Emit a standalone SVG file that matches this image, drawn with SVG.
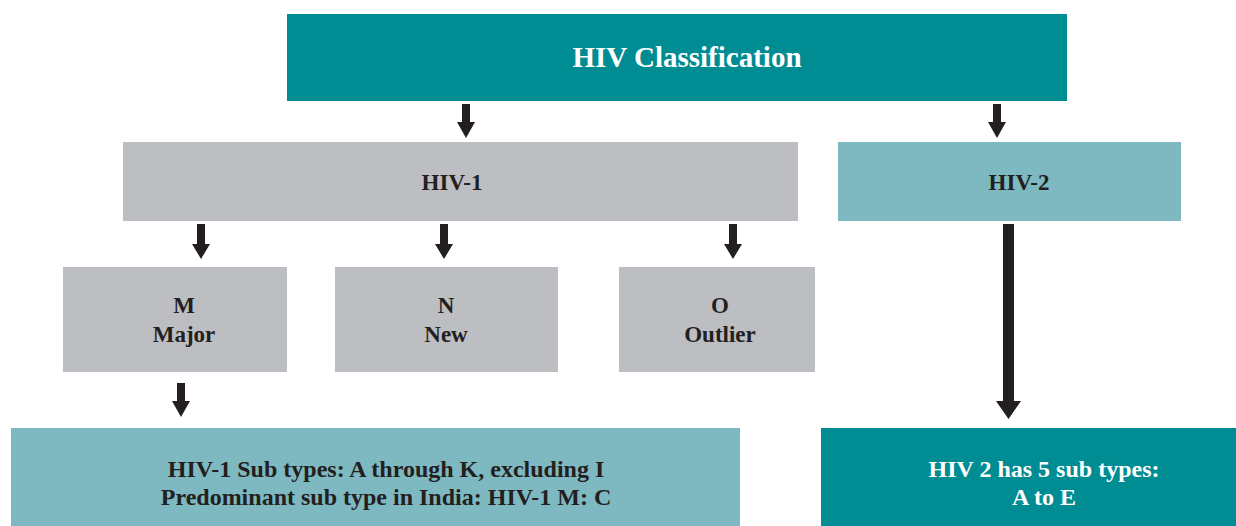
<svg xmlns="http://www.w3.org/2000/svg" width="1236" height="526" viewBox="0 0 1236 526">
<style>
.t{font-family:"Liberation Serif","Times New Roman",serif;font-weight:bold;text-anchor:middle;fill:#231F20}
.w{fill:#FFFFFF}
.dk{fill:#008C93}
.lt{fill:#7EB8C0}
.gr{fill:#BDBEC2}
.ar{fill:#231F20}
</style>
<rect width="1236" height="526" fill="#FFFFFF"/>
<g id="connectors">
<path class="ar" d="M462,104h8v18h5l-9,16l-9,-16h5z"/>
<path class="ar" d="M993,104h8v18h5l-9,16l-9,-16h5z"/>
<path class="ar" d="M197,224h8v20h5l-9,15l-9,-15h5z"/>
<path class="ar" d="M440,224h8v20h5l-9,15l-9,-15h5z"/>
<path class="ar" d="M729,224h8v20h5l-9,15l-9,-15h5z"/>
<path class="ar" d="M177,383h8v18h5l-9,16l-9,-16h5z"/>
<path class="ar" d="M1003,224h11v177h7l-12.5,18l-12.5,-18h7z"/>
</g>
<g id="hiv-classification">
<rect class="dk" x="287" y="14" width="780" height="87"/>
<text class="t w" x="687" y="67" font-size="29">HIV Classification</text>
</g>
<g id="hiv-1">
<rect class="gr" x="123" y="142" width="675" height="79"/>
<text class="t" x="452" y="190" font-size="23">HIV-1</text>
</g>
<g id="hiv-2">
<rect class="lt" x="838" y="142" width="343" height="79"/>
<text class="t" x="1019" y="190" font-size="23">HIV-2</text>
</g>
<g id="m-major">
<rect class="gr" x="63" y="267" width="224" height="105"/>
<text class="t" x="184" y="313" font-size="23">M</text>
<text class="t" x="184" y="342" font-size="23">Major</text>
</g>
<g id="n-new">
<rect class="gr" x="335" y="267" width="223" height="105"/>
<text class="t" x="446" y="313" font-size="23">N</text>
<text class="t" x="446" y="342" font-size="23">New</text>
</g>
<g id="o-outlier">
<rect class="gr" x="619" y="267" width="196" height="105"/>
<text class="t" x="720" y="313" font-size="23">O</text>
<text class="t" x="720" y="342" font-size="23">Outlier</text>
</g>
<g id="hiv-1-subtypes">
<rect class="lt" x="11" y="428" width="729" height="98"/>
<text class="t" x="386" y="477" font-size="24">HIV-1 Sub types: A through K, excluding I</text>
<text class="t" x="386" y="505" font-size="24">Predominant sub type in India: HIV-1 M: C</text>
</g>
<g id="hiv-2-subtypes">
<rect class="dk" x="821" y="428" width="415" height="98"/>
<text class="t w" x="1044" y="477" font-size="24">HIV 2 has 5 sub types:</text>
<text class="t w" x="1044" y="505" font-size="24">A to E</text>
</g>
</svg>
